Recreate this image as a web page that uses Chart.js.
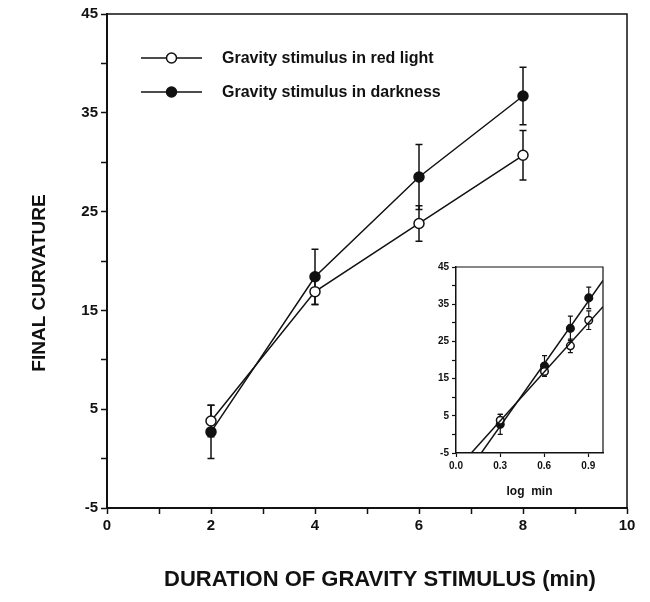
<!DOCTYPE html>
<html>
<head>
<meta charset="utf-8">
<script src="https://cdn.jsdelivr.net/npm/chart.js@4.4.0/dist/chart.umd.min.js"></script>
<style>
  html, body { margin: 0; padding: 0; background: #fff; }
  #wrap { position: relative; width: 650px; height: 602px; }
  #main { position: absolute; left: 0; top: 0; }
  #inset { position: absolute; left: 410px; top: 255px; }
</style>
</head>
<body>
<div id="wrap">
  <canvas id="main" width="650" height="602"></canvas>
  <canvas id="inset" width="210" height="250"></canvas>
</div>
<script>
// Stimulus durations (min) and mean final curvature with error bar half-lengths
const durations = [2, 4, 6, 8];
const redLight = [3.8, 16.9, 23.8, 30.7];
const redLightErr = [1.6, 1.3, 1.8, 2.5];
const darkness = [2.7, 18.4, 28.5, 36.7];
const darknessErr = [2.7, 2.8, 3.3, 2.9];
const seriesNames = ['Gravity stimulus in red light', 'Gravity stimulus in darkness'];

// Axis ticks
const yTicksAll = [-5, 0, 5, 10, 15, 20, 25, 30, 35, 40, 45];
const yTickLabels = [-5, 5, 15, 25, 35, 45];
const xTicksAll = [0, 1, 2, 3, 4, 5, 6, 7, 8, 9, 10];
const xTickLabels = [0, 2, 4, 6, 8, 10];
const insetXTicks = [0, 0.3, 0.6, 0.9];

const xTitle = 'DURATION OF GRAVITY STIMULUS (min)';
const yTitle = 'FINAL CURVATURE';
const insetXTitle = 'log  min';

const FONT = '"Liberation Sans", Arial, Helvetica, sans-serif';
const INK = '#111';

const toPoints = (xs, ys) => xs.map((x, i) => ({ x: x, y: ys[i] }));

// Vertical error bars with caps, drawn under the markers
const errorBarPlugin = {
  id: 'errorBars',
  beforeDatasetsDraw(chart, args, opts) {
    const ctx = chart.ctx;
    const ys = chart.scales.y;
    const cap = opts.cap || 3;
    ctx.save();
    ctx.strokeStyle = INK;
    ctx.lineWidth = opts.lineWidth || 1.5;
    chart.data.datasets.forEach((ds, i) => {
      if (!ds.errorBars) return;
      const meta = chart.getDatasetMeta(i);
      meta.data.forEach((pt, j) => {
        const v = ds.data[j].y;
        const e = ds.errorBars[j];
        const top = ys.getPixelForValue(v + e);
        const bot = ys.getPixelForValue(v - e);
        const x = pt.x;
        ctx.beginPath();
        ctx.moveTo(x, top); ctx.lineTo(x, bot);
        ctx.moveTo(x - cap, top); ctx.lineTo(x + cap, top);
        ctx.moveTo(x - cap, bot); ctx.lineTo(x + cap, bot);
        ctx.stroke();
      });
    });
    ctx.restore();
  }
};

// Closes the plot area with top and right edges
const framePlugin = {
  id: 'frame',
  beforeDatasetsDraw(chart, args, opts) {
    const { ctx, chartArea: a } = chart;
    ctx.save();
    ctx.strokeStyle = INK;
    ctx.lineWidth = opts.lineWidth || 1.5;
    ctx.beginPath();
    ctx.moveTo(a.left, a.top);
    ctx.lineTo(a.right, a.top);
    ctx.lineTo(a.right, a.bottom);
    ctx.stroke();
    ctx.restore();
  }
};

// Legend inside the plot: short line with the series marker, then its name
const legendPlugin = {
  id: 'lineLegend',
  afterDatasetsDraw(chart, args, opts) {
    const ctx = chart.ctx;
    ctx.save();
    chart.data.datasets.forEach((ds, i) => {
      const y = opts.rows[i];
      ctx.strokeStyle = INK;
      ctx.lineWidth = 1.5;
      ctx.beginPath();
      ctx.moveTo(opts.lineStart, y);
      ctx.lineTo(opts.lineEnd, y);
      ctx.stroke();
      const mx = (opts.lineStart + opts.lineEnd) / 2;
      ctx.beginPath();
      ctx.arc(mx, y, ds.pointRadius, 0, Math.PI * 2);
      ctx.fillStyle = ds.pointBackgroundColor;
      ctx.fill();
      ctx.stroke();
      ctx.fillStyle = INK;
      ctx.font = 'bold ' + opts.fontSize + 'px ' + FONT;
      ctx.textBaseline = 'middle';
      ctx.textAlign = 'left';
      ctx.fillText(ds.label, opts.textX, y + 1);
    });
    ctx.restore();
  }
};

// Axis titles placed freely around the plot
const titlesPlugin = {
  id: 'axisTitles',
  afterDraw(chart, args, opts) {
    const ctx = chart.ctx;
    ctx.save();
    ctx.fillStyle = INK;
    ctx.textAlign = 'center';
    ctx.textBaseline = 'middle';
    ctx.font = 'bold ' + opts.xSize + 'px ' + FONT;
    ctx.fillText(opts.x.text, opts.x.cx, opts.x.cy);
    ctx.translate(opts.y.cx, opts.y.cy);
    ctx.rotate(-Math.PI / 2);
    ctx.font = 'bold ' + opts.ySize + 'px ' + FONT;
    ctx.fillText(opts.y.text, 0, 0);
    ctx.restore();
  }
};

const tickFont = { family: FONT, size: 15, weight: 'bold' };

new Chart(document.getElementById('main'), {
  type: 'line',
  data: {
    datasets: [
      {
        label: seriesNames[0],
        data: toPoints(durations, redLight),
        errorBars: redLightErr,
        borderColor: INK,
        borderWidth: 1.5,
        pointRadius: 5,
        pointBackgroundColor: '#fff',
        pointBorderColor: INK,
        pointBorderWidth: 1.5,
        tension: 0
      },
      {
        label: seriesNames[1],
        data: toPoints(durations, darkness),
        errorBars: darknessErr,
        borderColor: INK,
        borderWidth: 1.5,
        pointRadius: 5,
        pointBackgroundColor: INK,
        pointBorderColor: INK,
        pointBorderWidth: 1.5,
        tension: 0
      }
    ]
  },
  options: {
    responsive: false,
    animation: false,
    events: [],
    layout: { padding: { left: 0, top: 14, right: 23, bottom: 0 } },
    scales: {
      x: {
        type: 'linear',
        min: 0,
        max: 10,
        afterBuildTicks: s => { s.ticks = xTicksAll.map(v => ({ value: v })); },
        afterFit: s => { s.height = 94; },
        ticks: {
          autoSkip: false,
          maxRotation: 0,
          padding: 3,
          color: INK,
          font: tickFont,
          callback: v => (xTickLabels.includes(v) ? String(v) : '')
        },
        grid: { drawOnChartArea: false, drawTicks: true, tickLength: 6, tickColor: INK, tickWidth: 1.5 },
        border: { display: true, color: INK, width: 2 }
      },
      y: {
        type: 'linear',
        min: -5,
        max: 45,
        afterBuildTicks: s => { s.ticks = yTicksAll.map(v => ({ value: v })); },
        afterFit: s => { s.width = 107; },
        ticks: {
          autoSkip: false,
          padding: 3,
          color: INK,
          font: tickFont,
          callback: v => (yTickLabels.includes(v) ? String(v) : '')
        },
        grid: { drawOnChartArea: false, drawTicks: true, tickLength: 6, tickColor: INK, tickWidth: 1.5 },
        border: { display: true, color: INK, width: 2 }
      }
    },
    plugins: {
      legend: { display: false },
      tooltip: { enabled: false },
      errorBars: { cap: 3.5, lineWidth: 1.5 },
      frame: { lineWidth: 1.5 },
      lineLegend: { rows: [58, 92], lineStart: 141, lineEnd: 202, textX: 222, fontSize: 16 },
      axisTitles: {
        xSize: 22, ySize: 19,
        x: { text: xTitle, cx: 380, cy: 580 },
        y: { text: yTitle, cx: 40, cy: 283 }
      }
    }
  },
  plugins: [errorBarPlugin, framePlugin, legendPlugin, titlesPlugin]
});

// Inset: same means against log10 of duration, with least-squares lines
const logDurations = durations.map(d => Math.log10(d));

function leastSquares(xs, ys) {
  const n = xs.length;
  const mx = xs.reduce((a, b) => a + b, 0) / n;
  const my = ys.reduce((a, b) => a + b, 0) / n;
  let sxy = 0, sxx = 0;
  for (let i = 0; i < n; i++) {
    sxy += (xs[i] - mx) * (ys[i] - my);
    sxx += (xs[i] - mx) * (xs[i] - mx);
  }
  const slope = sxy / sxx;
  return { slope: slope, intercept: my - slope * mx };
}

function fitLine(xs, ys) {
  const f = leastSquares(xs, ys);
  return [0, 1].map(x => ({ x: x, y: f.intercept + f.slope * x }));
}

const insetTickFont = { family: FONT, size: 10, weight: 'bold' };

new Chart(document.getElementById('inset'), {
  type: 'line',
  data: {
    datasets: [
      {
        label: seriesNames[0] + ' fit',
        data: fitLine(logDurations, redLight),
        borderColor: INK, borderWidth: 1.5, pointRadius: 0, tension: 0
      },
      {
        label: seriesNames[1] + ' fit',
        data: fitLine(logDurations, darkness),
        borderColor: INK, borderWidth: 1.5, pointRadius: 0, tension: 0
      },
      {
        label: seriesNames[0],
        data: toPoints(logDurations, redLight),
        errorBars: redLightErr,
        showLine: false,
        pointRadius: 3.8,
        pointBackgroundColor: '#fff',
        pointBorderColor: INK,
        pointBorderWidth: 1.5
      },
      {
        label: seriesNames[1],
        data: toPoints(logDurations, darkness),
        errorBars: darknessErr,
        showLine: false,
        pointRadius: 3.8,
        pointBackgroundColor: INK,
        pointBorderColor: INK,
        pointBorderWidth: 1.5
      }
    ]
  },
  options: {
    responsive: false,
    animation: false,
    events: [],
    layout: { padding: { left: 0, top: 12, right: 17, bottom: 0 } },
    scales: {
      x: {
        type: 'linear',
        min: 0,
        max: 1,
        afterBuildTicks: s => { s.ticks = insetXTicks.map(v => ({ value: v })); },
        afterFit: s => { s.height = 52; },
        ticks: {
          autoSkip: false,
          maxRotation: 0,
          padding: 3,
          color: INK,
          font: insetTickFont,
          callback: v => v.toFixed(1)
        },
        grid: { drawOnChartArea: false, drawTicks: true, tickLength: 4, tickColor: INK, tickWidth: 1.2 },
        border: { display: true, color: INK, width: 1.5 },
        title: {
          display: true,
          text: insetXTitle,
          color: INK,
          font: { family: FONT, size: 12, weight: 'bold' },
          padding: { top: 0, bottom: 6 }
        }
      },
      y: {
        type: 'linear',
        min: -5,
        max: 45,
        afterBuildTicks: s => { s.ticks = yTicksAll.map(v => ({ value: v })); },
        afterFit: s => { s.width = 46; },
        ticks: {
          autoSkip: false,
          padding: 3,
          color: INK,
          font: insetTickFont,
          callback: v => (yTickLabels.includes(v) ? String(v) : '')
        },
        grid: { drawOnChartArea: false, drawTicks: true, tickLength: 4, tickColor: INK, tickWidth: 1.2 },
        border: { display: true, color: INK, width: 1.5 }
      }
    },
    plugins: {
      legend: { display: false },
      tooltip: { enabled: false },
      errorBars: { cap: 2.5, lineWidth: 1.2 },
      frame: { lineWidth: 1.2 }
    }
  },
  plugins: [errorBarPlugin, framePlugin]
});
</script>
</body>
</html>
